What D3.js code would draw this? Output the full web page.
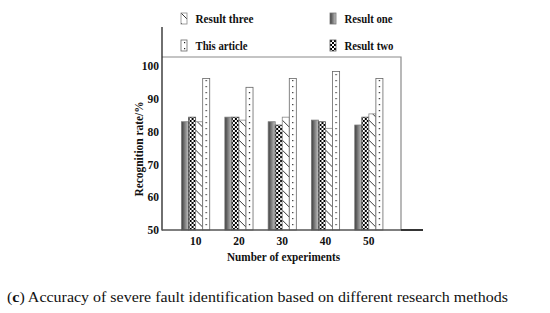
<!DOCTYPE html>
<html>
<head>
<meta charset="utf-8">
<script src="https://cdn.jsdelivr.net/npm/d3@7"></script>
<style>
  body { margin:0; background:#fff; }
  svg text { font-family: "Liberation Serif", "Times New Roman", serif; }
</style>
</head>
<body>
<svg id="chart" width="550" height="313"></svg>
<script>
// data
const groups = ['10', '20', '30', '40', '50'];
const seriesNames = ['Result one', 'Result two', 'Result three', 'This article'];
const resultOne   = [83.0, 84.4, 83.0, 83.5, 82.0];
const resultTwo   = [84.4, 84.4, 82.0, 83.0, 84.4];
const resultThree = [83.0, 83.5, 84.4, 81.0, 85.4];
const thisArticle = [96.2, 93.5, 96.2, 98.3, 96.2];
const yTicks = [50, 60, 70, 80, 90, 100];

const svg = d3.select('#chart');
const defs = svg.append('defs');

// fills for each series
const grad = defs.append('linearGradient').attr('id', 'gOne')
  .attr('x1', 0).attr('x2', 1).attr('y1', 0).attr('y2', 0);
grad.append('stop').attr('offset', 0).attr('stop-color', '#3c3c3c');
grad.append('stop').attr('offset', 0.35).attr('stop-color', '#6e6e6e');
grad.append('stop').attr('offset', 1).attr('stop-color', '#c4c4c4');

const chk = defs.append('pattern').attr('id', 'pTwo')
  .attr('patternUnits', 'userSpaceOnUse').attr('width', 4).attr('height', 4);
chk.append('rect').attr('width', 4).attr('height', 4).attr('fill', '#fff');
chk.append('rect').attr('width', 2).attr('height', 2).attr('fill', '#000');
chk.append('rect').attr('x', 2).attr('y', 2).attr('width', 2).attr('height', 2).attr('fill', '#000');

const hatch = defs.append('pattern').attr('id', 'pThree')
  .attr('patternUnits', 'userSpaceOnUse').attr('width', 7).attr('height', 10);
hatch.append('rect').attr('width', 7).attr('height', 10).attr('fill', '#fff');
hatch.append('line').attr('x1', 0).attr('y1', 0).attr('x2', 7).attr('y2', 7)
  .attr('stroke', '#222').attr('stroke-width', 0.9);

const dots = defs.append('pattern').attr('id', 'pFour')
  .attr('patternUnits', 'userSpaceOnUse').attr('width', 7).attr('height', 6);
dots.append('rect').attr('width', 7).attr('height', 6).attr('fill', '#fff');
dots.append('rect').attr('x', 3).attr('y', 2).attr('width', 1.2).attr('height', 1.2).attr('fill', '#222');

const fills = ['url(#gOne)', 'url(#pTwo)', 'url(#pThree)', 'url(#pFour)'];
const strokes = ['#777', '#555', '#888', '#666'];

// scales
const plot = { left: 162, right: 401, top: 57, bottom: 230 };
const y = d3.scaleLinear().domain([50, 100]).range([230, 66]);
const x0 = d3.scaleBand().domain(groups).range([174, 390.5])
  .paddingInner(0.35).paddingOuter(0.175);
const x1 = d3.scaleBand().domain(seriesNames).range([0, x0.bandwidth()]);

// frame
svg.append('path')
  .attr('d', `M${plot.left},${plot.top}H${plot.right}V${plot.bottom}`)
  .attr('fill', 'none').attr('stroke', '#8a8a8a').attr('stroke-width', 1.2);

// bars
const rows = groups.map((g, i) => ({ g, vals: [resultOne[i], resultTwo[i], resultThree[i], thisArticle[i]] }));
const gg = svg.append('g').selectAll('g').data(rows).join('g')
  .attr('transform', d => `translate(${x0(d.g)},0)`);
gg.selectAll('rect').data(d => d.vals.map((v, k) => ({ v, k }))).join('rect')
  .attr('x', d => x1(seriesNames[d.k]))
  .attr('y', d => y(d.v))
  .attr('width', x1.bandwidth())
  .attr('height', d => y(50) - y(d.v))
  .attr('fill', d => fills[d.k])
  .attr('stroke', d => strokes[d.k]).attr('stroke-width', 0.8);

// axes
const yAxis = svg.append('g').attr('transform', `translate(${plot.left},0)`)
  .call(d3.axisLeft(y).tickValues(yTicks).tickSize(0).tickPadding(3));
yAxis.select('.domain').remove();
yAxis.selectAll('text').attr('font-size', 11.5).attr('font-weight', 'bold').attr('fill', '#111');
svg.append('line').attr('x1', plot.left).attr('x2', plot.left).attr('y1', 27).attr('y2', 230.5)
  .attr('stroke', '#222').attr('stroke-width', 1.3);

const xAxis = svg.append('g').attr('transform', `translate(0,${plot.bottom})`)
  .call(d3.axisBottom(x0).tickSize(0).tickPadding(7));
xAxis.select('.domain').remove();
xAxis.selectAll('text').attr('font-size', 11.5).attr('font-weight', 'bold').attr('fill', '#111');
svg.append('line').attr('x1', plot.left).attr('x2', 423).attr('y1', 230).attr('y2', 230)
  .attr('stroke', '#555').attr('stroke-width', 1.6);
svg.append('line').attr('x1', plot.right).attr('x2', 423).attr('y1', 230).attr('y2', 230)
  .attr('stroke', '#222').attr('stroke-width', 1.6);

// axis titles
svg.append('text').attr('x', 283.5).attr('y', 261).attr('text-anchor', 'middle')
  .attr('font-size', 12.5).attr('font-weight', 'bold').attr('fill', '#111')
  .attr('textLength', 113).attr('lengthAdjust', 'spacingAndGlyphs')
  .text('Number of experiments');
svg.append('text').attr('transform', 'translate(142.5,149) rotate(-90)').attr('text-anchor', 'middle')
  .attr('font-size', 12.5).attr('font-weight', 'bold').attr('fill', '#111')
  .attr('textLength', 95).attr('lengthAdjust', 'spacingAndGlyphs')
  .text('Recognition rate/%');

// legend
const legendItems = [
  { name: 'Result three', k: 2, x: 181, y: 13, len: 58 },
  { name: 'Result one', k: 0, x: 330, y: 13, len: 48 },
  { name: 'This article', k: 3, x: 181, y: 40, len: 52 },
  { name: 'Result two', k: 1, x: 330, y: 40, len: 49 }
];
const lg = svg.append('g').selectAll('g').data(legendItems).join('g')
  .attr('transform', d => `translate(${d.x},${d.y})`);
lg.append('rect').attr('width', 6).attr('height', 11)
  .attr('fill', d => fills[d.k]).attr('stroke', d => strokes[d.k]).attr('stroke-width', 0.8);
lg.append('text').attr('x', 14.5).attr('y', 10)
  .attr('font-size', 13).attr('font-weight', 'bold').attr('fill', '#111')
  .attr('textLength', d => d.len).attr('lengthAdjust', 'spacingAndGlyphs')
  .text(d => d.name);

// caption
const cap = svg.append('text').attr('x', 7).attr('y', 302)
  .attr('font-size', 14.5).attr('fill', '#111')
  .attr('textLength', 501).attr('lengthAdjust', 'spacingAndGlyphs');
cap.append('tspan').text('(');
cap.append('tspan').attr('font-weight', 'bold').text('c');
cap.append('tspan').text(') Accuracy of severe fault identification based on different research methods');
</script>
</body>
</html>
